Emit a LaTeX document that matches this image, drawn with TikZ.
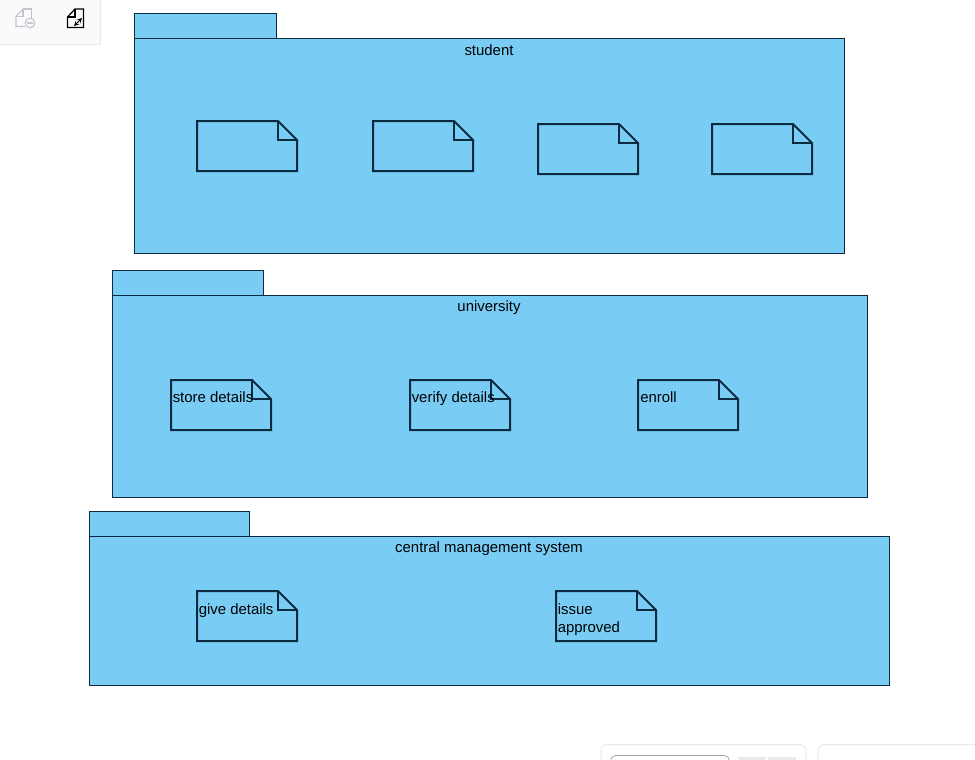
\documentclass[tikz,border=0pt]{standalone}
\usepackage{fontspec}
\setmainfont{Liberation Sans}

\definecolor{pkgblue}{HTML}{79CDF5}
\definecolor{pkgline}{HTML}{0C2A40}
\definecolor{panelline}{HTML}{E8EAEE}
\definecolor{panelfill}{HTML}{F9FAFC}
\definecolor{icongrey}{HTML}{C4C6C9}

\tikzset{
  pkg/.style={draw=pkgline, fill=pkgblue, line width=0.7pt},
  artifact/.style={draw=pkgline, line width=1.5pt, line join=miter},
  pkglabel/.style={font=\fontsize{11.2pt}{13.5pt}\selectfont, inner sep=0pt, anchor=base},
  notelabel/.style={font=\fontsize{11.2pt}{13.5pt}\selectfont, inner sep=0pt, anchor=base west, align=left},
  panel/.style={draw=panelline, line width=0.75pt},
  icongrey/.style={draw=icongrey, line width=0.8pt},
  iconblack/.style={draw=black, line width=0.9pt}
}

% note outline with its turned corner
\newcommand{\notebox}[2]{
  \draw[artifact] (#1,#2) -- ++(81,0) -- ++(19,19) -- ++(0,31) -- ++(-100,0) -- cycle;
  \draw[artifact] (#1+81,#2) -- ++(0,19) -- ++(19,0);
}

\begin{document}
\begin{tikzpicture}[x=0.75pt, y=-0.75pt]
  \useasboundingbox (0,0) rectangle (975,760);
  \clip (0,0) rectangle (975,760);
  \fill[white] (0,0) rectangle (975,760);

  % toolbar
  \filldraw[panel, fill=panelfill] (-5,-5) rectangle (100.5,44);
  \draw[icongrey] (23,9) -- (31.5,9) -- (31.5,19);
  \draw[icongrey] (23,9) -- (16,16.5) -- (16,26.5) -- (25,26.5);
  \draw[icongrey] (23,9) -- (23,16.5) -- (16,16.5);
  \draw[icongrey] (30,23) circle (4.8);
  \draw[icongrey] (27,23) -- (33,23);
  \draw[iconblack] (75,9) -- (83.5,9) -- (83.5,27.5) -- (67.5,27.5) -- (67.5,17) -- cycle;
  \draw[iconblack] (75,9) -- (75,17) -- (67.5,17);
  \draw[iconblack, line width=0.7pt, <->, >=stealth] (74,26) -- (82,18);

  % bottom panels
  \draw[panel, rounded corners=4pt] (601,770) -- (601,744.5) -- (806,744.5) -- (806,770);
  \draw[panel, rounded corners=4pt] (818,770) -- (818,744.5) -- (985,744.5);
  \draw[draw=gray!70, line width=0.6pt, rounded corners=4pt] (610.5,770) -- (610.5,755.5) -- (729.5,755.5) -- (729.5,770);
  \fill[panelline] (738,756.5) rectangle (766,770);
  \fill[panelline] (768,756.5) rectangle (796,770);

  % student
  \draw[pkg] (134.8,13.8) rectangle (276.8,38.8);
  \draw[pkg] (134.8,38.8) rectangle (844.6,253);
  \node[pkglabel] (student) at (489,55.3) {student};
  \notebox{197}{121}
  \notebox{373}{121}
  \notebox{538}{124}
  \notebox{712}{124}

  % university
  \draw[pkg] (112,270) rectangle (263.6,295);
  \draw[pkg] (112,295) rectangle (867,497);
  \node[pkglabel] (university) at (489,311.3) {university};
  \notebox{171}{380}
  \notebox{410}{380}
  \notebox{638}{380}
  \node[notelabel] (storedetails) at (172.5,402.3) {store details};
  \node[notelabel] (verifydetails) at (411.5,402.3) {verify details};
  \node[notelabel] (enroll) at (640,402.3) {enroll};

  % central management system
  \draw[pkg] (89.6,511) rectangle (249.8,536);
  \draw[pkg] (89.6,536) rectangle (889.6,685);
  \node[pkglabel] (cms) at (489,552.3) {central management system};
  \notebox{197}{591}
  \notebox{556}{591}
  \node[notelabel] (givedetails) at (198.5,614.3) {give details};
  \node[notelabel] (issue) at (557.5,632.3) {issue\\approved};
\end{tikzpicture}
\end{document}
